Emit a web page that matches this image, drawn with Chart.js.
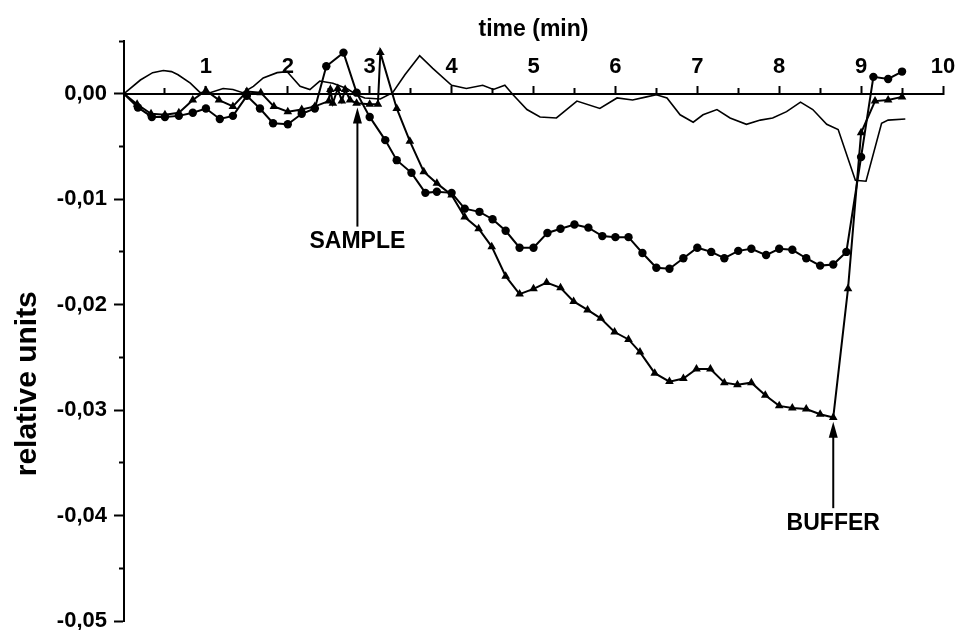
<!DOCTYPE html>
<html>
<head>
<meta charset="utf-8">
<title>relative units vs time</title>
<script src="https://cdn.jsdelivr.net/npm/chart.js@4.4.1/dist/chart.umd.min.js"></script>
<style>
  body { margin: 0; background: #fff; }
  #wrap { width: 955px; height: 630px; }
</style>
</head>
<body>
<div id="wrap"><canvas id="chart" width="955" height="630"></canvas></div>
<script>
// plain trace, no markers
const plainTime = [0, 0.03, 0.2, 0.35, 0.48, 0.58, 0.66, 0.81, 0.93, 1.05, 1.21, 1.33, 1.45, 1.58, 1.7, 1.87, 1.99,
    2.15, 2.27, 2.39, 2.55, 2.72, 2.84, 2.94, 3.13, 3.28, 3.43, 3.61, 3.77, 4.0, 4.18, 4.38, 4.51, 4.65, 4.75, 4.92,
    5.08, 5.28, 5.53, 5.81, 6.02, 6.21, 6.38, 6.5, 6.63, 6.79, 6.95, 7.07, 7.24, 7.4, 7.6, 7.77, 7.92, 8.09, 8.26,
    8.41, 8.58, 8.72, 8.93, 9.06, 9.25, 9.33, 9.54];
const plainValue = [0, 0.0002, 0.0013, 0.0020, 0.0022, 0.0021, 0.0018, 0.0010, 0.0001, 0.0001, 0.0005, 0.0004, 0.0001,
    0.0007, 0.0015, 0.0020, 0.0021, 0.0007, 0.0004, 0.0012, 0.0010, 0.0005, -0.0001, -0.0004, -0.0005, 0.0001, 0.0018,
    0.0036, 0.0024, 0.0008, 0.0005, 0.0008, 0.0004, 0.0008, -0.0001, -0.0015, -0.0022, -0.0023, -0.0007, -0.0014,
    -0.0004, -0.0006, -0.0003, -0.0001, -0.0004, -0.0020, -0.0027, -0.0020, -0.0015, -0.0023, -0.0029, -0.0025,
    -0.0023, -0.0017, -0.0008, -0.0015, -0.0029, -0.0034, -0.0082, -0.0083, -0.0028, -0.0025, -0.0024];

// trace with circles
const circleTime = [0, 0.17, 0.34, 0.5, 0.67, 0.84, 1.0, 1.17, 1.33, 1.5, 1.66, 1.82, 2.0, 2.17, 2.33, 2.47, 2.68,
    2.84, 3.0, 3.19, 3.33, 3.51, 3.68, 3.82, 4.0, 4.16, 4.34, 4.5, 4.66, 4.83, 5.0, 5.17, 5.33, 5.5, 5.67, 5.84, 6.0,
    6.16, 6.33, 6.5, 6.66, 6.83, 7.0, 7.17, 7.33, 7.5, 7.66, 7.84, 8.0, 8.16, 8.33, 8.5, 8.66, 8.82, 9.0, 9.15, 9.33, 9.5];
const circleValue = [0, -0.0013, -0.0022, -0.0022, -0.0021, -0.0018, -0.0014, -0.0024, -0.0021, -0.0002, -0.0014,
    -0.0028, -0.0029, -0.0019, -0.0014, 0.0026, 0.0039, 0.0001, -0.0022, -0.0044, -0.0063, -0.0075, -0.0094, -0.0093,
    -0.0094, -0.0109, -0.0112, -0.0119, -0.0130, -0.0146, -0.0146, -0.0132, -0.0128, -0.0124, -0.0127, -0.0135,
    -0.0136, -0.0136, -0.0151, -0.0165, -0.0166, -0.0156, -0.0146, -0.0150, -0.0156, -0.0149, -0.0147, -0.0153,
    -0.0147, -0.0148, -0.0156, -0.0163, -0.0162, -0.0150, -0.0060, 0.0016, 0.0014, 0.0021];

// trace with triangles
const triangleTime = [0, 0.16, 0.33, 0.5, 0.67, 0.84, 1.0, 1.16, 1.33, 1.5, 1.67, 1.83, 2.0, 2.17, 2.33, 2.5, 2.52,
    2.55, 2.61, 2.66, 2.7, 2.76, 2.84, 3.0, 3.1, 3.13, 3.33, 3.49, 3.66, 3.82, 4.0, 4.16, 4.33, 4.49, 4.66, 4.83, 5.0,
    5.16, 5.33, 5.49, 5.66, 5.82, 5.99, 6.16, 6.3, 6.48, 6.66, 6.83, 6.99, 7.16, 7.33, 7.49, 7.66, 7.83, 8.0, 8.16,
    8.33, 8.5, 8.66, 8.84, 9.0, 9.17, 9.33, 9.5];
const triangleValue = [0, -0.0010, -0.0019, -0.0020, -0.0018, -0.0006, 0.0003, -0.0006, -0.0012, 0.0002, 0.0001,
    -0.0012, -0.0017, -0.0015, -0.0012, -0.0007, 0.0004, -0.0009, 0.0005, -0.0007, 0.0004, -0.0006, -0.0009, -0.0010,
    -0.0010, 0.0039, -0.0014, -0.0045, -0.0074, -0.0085, -0.0096, -0.0117, -0.0128, -0.0145, -0.0173, -0.0190,
    -0.0185, -0.0179, -0.0184, -0.0197, -0.0205, -0.0213, -0.0226, -0.0233, -0.0245, -0.0265, -0.0273, -0.0270,
    -0.0261, -0.0261, -0.0274, -0.0276, -0.0274, -0.0286, -0.0296, -0.0298, -0.0299, -0.0304, -0.0307, -0.0185,
    -0.0037, -0.0007, -0.0006, -0.0003];

// axis ticks
const timeMajor = [1, 2, 3, 4, 5, 6, 7, 8, 9, 10];
const timeMinor = [0.5, 1.5, 2.5, 3.5, 4.5, 5.5, 6.5, 7.5, 8.5, 9.5];
const valueMajor = [0, -0.01, -0.02, -0.03, -0.04, -0.05];
const valueMinor = [0.005, -0.005, -0.015, -0.025, -0.035, -0.045];

// arrows with labels (time, arrow tip, arrow tail)
const arrowNotes = [
    {label: "SAMPLE", at: 2.85, tip: -0.0013, tail: -0.0126},
    {label: "BUFFER", at: 8.66, tip: -0.0311, tail: -0.0393}
];
const yTitle = "relative units";
const yTitleAt = -0.0275;

const FONT = "'Liberation Sans', Arial, sans-serif";
Chart.defaults.font.family = FONT;
Chart.defaults.color = "#000";

function toPoints(xs, ys){
    return xs.map((x, i) => ({x: x, y: ys[i]}));
}

function fixTicks(list){
    return scale => { scale.ticks = list.map(v => ({value: v})); };
}

/* arrows, their labels and the y title */
const notesPlugin = {
    id: "notes",
    afterDatasetsDraw(chart){
        const ctx = chart.ctx;
        const x = chart.scales.x, y = chart.scales.y;
        ctx.save();
        ctx.fillStyle = "#000";
        ctx.strokeStyle = "#000";
        ctx.lineWidth = 2;
        for(let n of arrowNotes){
            const px = x.getPixelForValue(n.at);
            const tipY = y.getPixelForValue(n.tip);
            const tailY = y.getPixelForValue(n.tail);
            ctx.beginPath();
            ctx.moveTo(px, tailY);
            ctx.lineTo(px, tipY + 12);
            ctx.stroke();
            ctx.beginPath();
            ctx.moveTo(px, tipY);
            ctx.lineTo(px - 4.5, tipY + 16);
            ctx.lineTo(px + 4.5, tipY + 16);
            ctx.closePath();
            ctx.fill();
            ctx.font = "bold 23px " + FONT;
            ctx.textAlign = "center";
            ctx.textBaseline = "top";
            ctx.fillText(n.label, px, tailY + 4);
        }
        ctx.translate(28, y.getPixelForValue(yTitleAt));
        ctx.rotate(-Math.PI / 2);
        ctx.font = "bold 30px " + FONT;
        ctx.textAlign = "center";
        ctx.textBaseline = "middle";
        ctx.fillText(yTitle, 0, 0);
        ctx.restore();
    }
};

const chart = new Chart(document.getElementById("chart").getContext("2d"), {
    type: "line",
    data: {
        datasets: [
            {
                label: "plain",
                data: toPoints(plainTime, plainValue),
                borderColor: "#000",
                borderWidth: 1.6,
                pointRadius: 0,
                fill: false
            },
            {
                label: "circles",
                data: toPoints(circleTime, circleValue),
                borderColor: "#000",
                backgroundColor: "#000",
                borderWidth: 2,
                pointStyle: "circle",
                pointRadius: c => c.dataIndex === 0 ? 0 : 4.2,
                pointBorderWidth: 0,
                fill: false
            },
            {
                label: "triangles",
                data: toPoints(triangleTime, triangleValue),
                borderColor: "#000",
                backgroundColor: "#000",
                borderWidth: 2,
                pointStyle: "triangle",
                pointRadius: c => c.dataIndex === 0 ? 0 : 5,
                pointBorderWidth: 0,
                fill: false
            }
        ]
    },
    options: {
        responsive: false,
        animation: false,
        events: [],
        layout: {autoPadding: false, padding: {left: 0, right: 12, top: 0, bottom: 9}},
        plugins: {
            legend: {display: false},
            tooltip: {enabled: false},
            title: {
                display: true,
                text: "time (min)",
                fullSize: false,
                color: "#000",
                font: {size: 23, weight: "bold", lineHeight: 1.0},
                padding: {top: 18, bottom: 0}
            }
        },
        scales: {
            x: {
                type: "linear",
                position: {y: 0},
                min: 0,
                max: 10,
                afterBuildTicks: fixTicks(timeMajor),
                afterFit: s => { s.paddingLeft = 0; s.paddingRight = 0; s.paddingTop = 0; s.paddingBottom = 0; },
                border: {color: "#000", width: 2},
                grid: {drawOnChartArea: false, tickLength: -9, tickColor: "#000", tickWidth: 2},
                ticks: {
                    mirror: true,
                    padding: -5,
                    autoSkip: false,
                    maxRotation: 0,
                    font: {size: 22, weight: "bold"},
                    callback: v => String(v)
                }
            },
            x2: {
                type: "linear",
                axis: "x",
                position: {y: 0},
                min: 0,
                max: 10,
                afterBuildTicks: fixTicks(timeMinor),
                border: {display: false},
                grid: {drawOnChartArea: false, tickLength: -6, tickColor: "#000", tickWidth: 2},
                ticks: {display: false}
            },
            y: {
                type: "linear",
                position: "left",
                min: -0.05,
                max: 0.005,
                afterBuildTicks: fixTicks(valueMajor),
                afterFit: s => { s.width = 124; s.paddingTop = 0; s.paddingBottom = 0; },
                border: {color: "#000", width: 2},
                grid: {drawOnChartArea: false, tickLength: 10, tickColor: "#000", tickWidth: 2},
                ticks: {
                    padding: 7,
                    autoSkip: false,
                    font: {size: 22, weight: "bold"},
                    callback: v => v === 0 ? "0,00" : v.toFixed(2).replace(".", ",")
                }
            },
            y2: {
                type: "linear",
                axis: "y",
                position: {x: 0},
                min: -0.05,
                max: 0.005,
                afterBuildTicks: fixTicks(valueMinor),
                border: {display: false},
                grid: {drawOnChartArea: false, tickLength: 5, tickColor: "#000", tickWidth: 2},
                ticks: {display: false}
            }
        }
    },
    plugins: [notesPlugin]
});
</script>
</body>
</html>
